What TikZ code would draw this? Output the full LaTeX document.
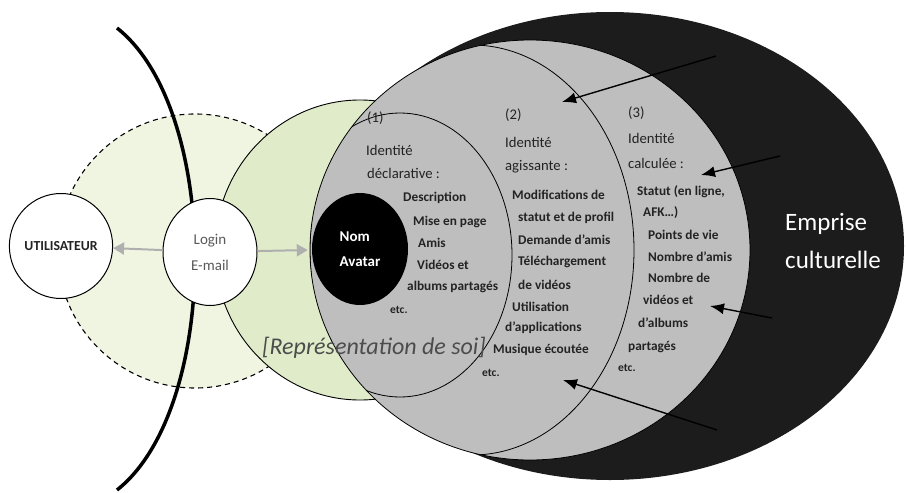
\documentclass[tikz,border=0pt]{standalone}
\usepackage{fontspec}
\setmainfont{Carlito}
\usetikzlibrary{arrows.meta,shapes.geometric}
\definecolor{paleg}{RGB}{240,245,226}
\definecolor{softg}{RGB}{224,236,201}
\definecolor{midgray}{RGB}{190,190,190}
\definecolor{nearblack}{RGB}{28,28,28}
\definecolor{txtgray}{RGB}{35,35,35}
\definecolor{arrgray}{RGB}{175,175,175}
\tikzset{
	txt/.style={anchor=west, inner sep=0pt, text=txtgray, font=\fontsize{14.7}{16}\selectfont},
	item/.style={txt, font=\bfseries\fontsize{13.3}{15}\selectfont},
	small/.style={txt, font=\bfseries\fontsize{11.5}{13}\selectfont},
	bubble/.style={ellipse, draw, line width=1pt, fill=white, inner sep=0pt},
	grayarrow/.style={draw=arrgray, line width=2pt, -{Triangle[length=11pt,width=12pt]}},
	blackarrow/.style={line width=1.4pt, -{Latex[length=14pt,width=11pt]}}
}
\begin{document}
\begin{tikzpicture}[x=1pt,y=-1pt]
	\useasboundingbox (0,0) rectangle (906,493);
	\draw[fill=paleg, dash pattern=on 5pt off 4pt, line width=1.1pt] (195,251) circle [radius=137];
	\draw[fill=softg, line width=0.9pt] (360,250) ellipse [x radius=145, y radius=150];
	\fill[nearblack] (610,246) ellipse [x radius=294, y radius=234];
	\draw[fill=midgray, line width=0.8pt] (530,250) ellipse [x radius=220, y radius=210];
	\begin{scope}
		\clip (530,250) ellipse [x radius=220, y radius=210];
		\draw[line width=0.8pt] (472,250) ellipse [x radius=162, y radius=205];
		\draw[line width=0.8pt] (400,255) ellipse [x radius=112, y radius=142];
	\end{scope}
	\draw[line width=3.5pt] (117,28) .. controls (221,110) and (221,408) .. (117,490);

	\node[bubble, minimum width=95pt, minimum height=105pt, font=\bfseries\fontsize{13.8}{15}\selectfont, text=txtgray] (user) at (61,246) {UTILISATEUR};
	\node[bubble, minimum width=94pt, minimum height=107pt, align=center, text=black!65, font=\fontsize{15}{26}\selectfont] (login) at (210,252) {Login\\E-mail};
	\node[ellipse, fill=black, inner sep=0pt, minimum width=96pt, minimum height=112pt, align=left, text=white, font=\bfseries\fontsize{15}{25}\selectfont] (nomav) at (360,249) {Nom\\Avatar};
	\draw[grayarrow] (login) -- (user);
	\draw[grayarrow, shorten >=4pt] (login) -- (nomav);

	\node[txt, text=black!70, font=\itshape\fontsize{24}{26}\selectfont] (repr) at (262,348) {[Représentation de soi]};
	\node[anchor=west, inner sep=0pt, text=white, align=left, font=\fontsize{25}{38}\selectfont] (emprise) at (785,241) {Emprise\\culturelle};

	% (1)
	\node[txt] (d0) at (367,118) {(1)};
	\node[txt] (d1) at (366,150) {Identité};
	\node[txt] (d2) at (367,173) {déclarative :};
	\node[item] (d3) at (403,198) {Description};
	\node[item] (d4) at (413,222) {Mise en page};
	\node[item] (d5) at (418,243) {Amis};
	\node[item] (d6) at (417,265) {Vidéos et};
	\node[item] (d7) at (407,287) {albums partagés};
	\node[small] (d8) at (390,310) {etc.};

	% (2)
	\node[txt] (a0) at (505,115) {(2)};
	\node[txt] (a1) at (505,142) {Identité};
	\node[txt] (a2) at (505,167) {agissante :};
	\node[item] (a3) at (512,195) {Modifications de};
	\node[item] (a4) at (518,218) {statut et de profil};
	\node[item] (a5) at (518,240) {Demande d’amis};
	\node[item] (a6) at (518,262) {Téléchargement};
	\node[item] (a7) at (518,285) {de vidéos};
	\node[item] (a8) at (512,307) {Utilisation};
	\node[item] (a9) at (505,328) {d’applications};
	\node[item] (a10) at (493,350) {Musique écoutée};
	\node[small] (a11) at (482,373) {etc.};

	% (3)
	\node[txt] (c0) at (628,113) {(3)};
	\node[txt] (c1) at (628,138) {Identité};
	\node[txt] (c2) at (628,163) {calculée :};
	\node[item] (c3) at (637,192) {Statut (en ligne,};
	\node[item] (c4) at (643,213) {AFK…)};
	\node[item] (c5) at (648,235) {Points de vie};
	\node[item] (c6) at (648,257) {Nombre d’amis};
	\node[item] (c7) at (648,278) {Nombre de};
	\node[item] (c8) at (643,300) {vidéos et};
	\node[item] (c9) at (638,323) {d’albums};
	\node[item] (c10) at (628,347) {partagés};
	\node[small] (c11) at (618,368) {etc.};

	\coordinate (s1) at (716,56);
	\coordinate (e1) at (562,102);
	\coordinate (s2) at (780,156);
	\coordinate (e2) at (701,175);
	\coordinate (s3) at (772,318);
	\coordinate (e3) at (710,306);
	\coordinate (s4) at (717,430);
	\coordinate (e4) at (563,380);
	\draw[blackarrow] (s1) -- (e1);
	\draw[blackarrow] (s2) -- (e2);
	\draw[blackarrow] (s3) -- (e3);
	\draw[blackarrow] (s4) -- (e4);
\end{tikzpicture}
\end{document}
